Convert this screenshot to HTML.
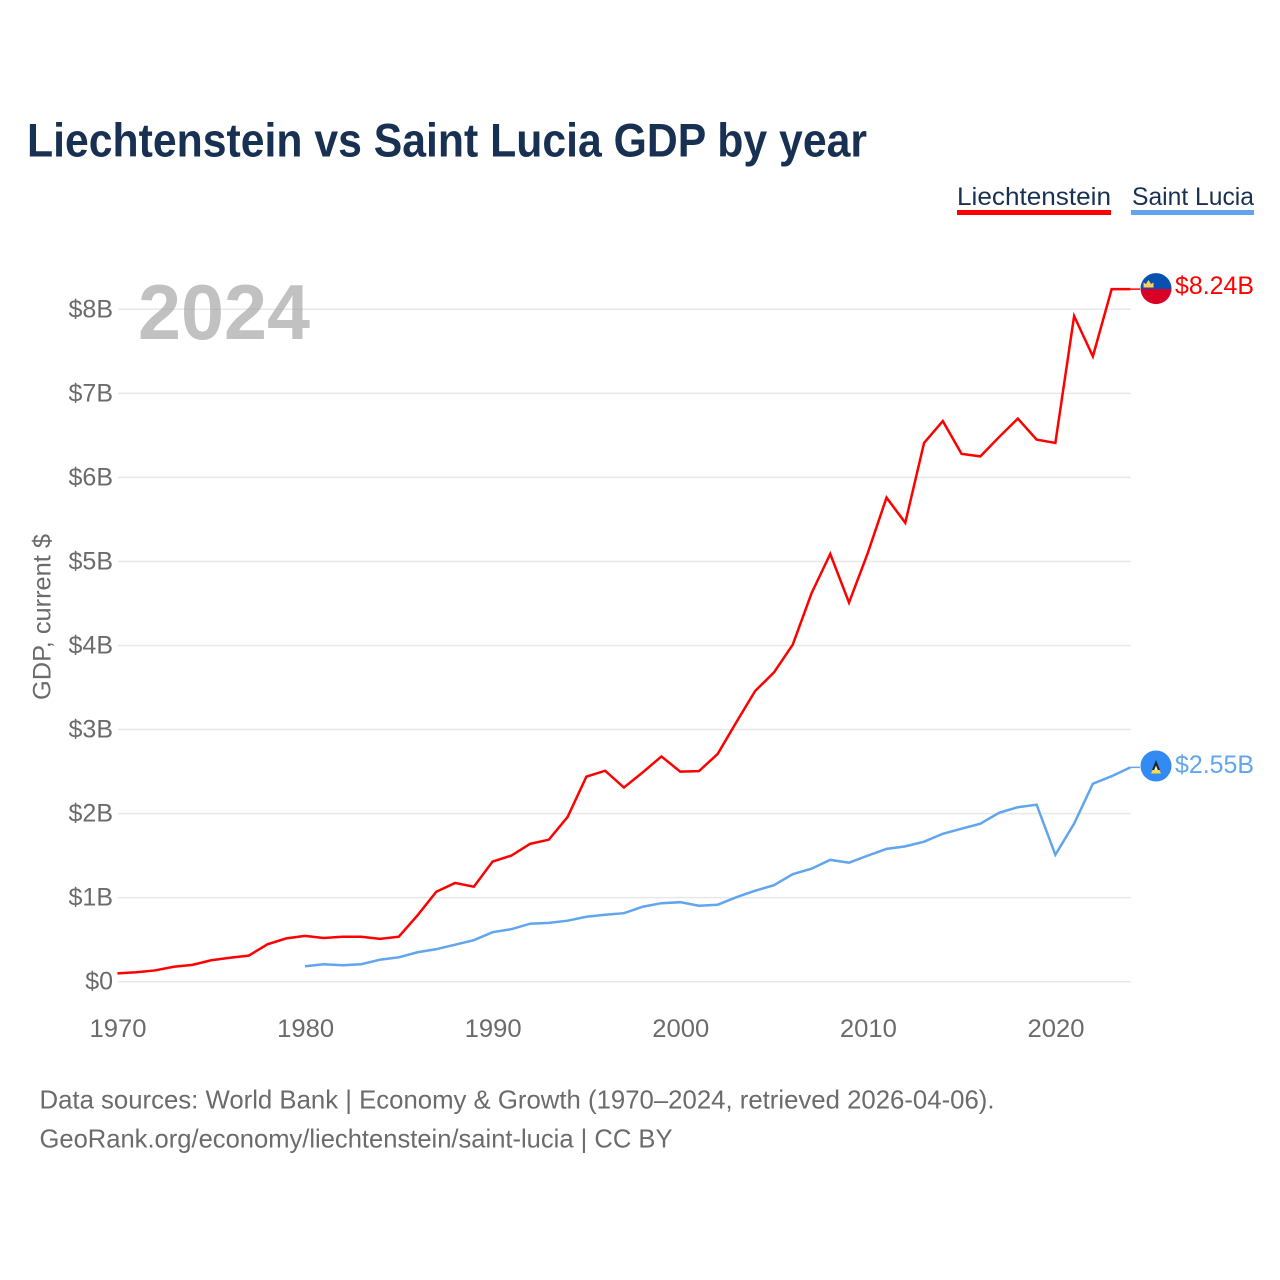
<!DOCTYPE html>
<html lang="en">
<head>
<meta charset="utf-8">
<title>Liechtenstein vs Saint Lucia GDP by year</title>
<style>
html,body{margin:0;padding:0;background:#fff;}
svg{display:block;font-family:"Liberation Sans",Arial,sans-serif;}
</style>
</head>
<body>
<svg id="chart" xmlns="http://www.w3.org/2000/svg" width="1280" height="1280" viewBox="0 0 1280 1280">
  <rect width="1280" height="1280" fill="#ffffff"/>
  <text x="27" y="156.500" font-size="47" font-weight="700" fill="#183153" textLength="840" lengthAdjust="spacingAndGlyphs">Liechtenstein vs Saint Lucia GDP by year</text>

  <g>
    <text x="957" y="205" font-size="25" fill="#183153" textLength="154" lengthAdjust="spacingAndGlyphs">Liechtenstein</text>
    <rect x="957" y="210" width="154" height="5" fill="#ff0000"/>
  </g>
  <g>
    <text x="1132" y="205" font-size="25" fill="#183153" textLength="122" lengthAdjust="spacingAndGlyphs">Saint Lucia</text>
    <rect x="1131" y="210" width="123" height="5" fill="#60a5ed"/>
  </g>

  <g id="grid"></g>
  <text x="138" y="339" font-size="78" font-weight="700" fill="#a6a6a6" fill-opacity="0.7" textLength="172" lengthAdjust="spacingAndGlyphs">2024</text>
  <g id="yticks"></g>
  <g id="xticks"></g>
  <text transform="translate(50.500,700) rotate(-90)" font-size="25" fill="#6b6b6b" textLength="166" lengthAdjust="spacingAndGlyphs">GDP, current $</text>
  <g id="series"></g>

  <g id="flag-li">
    <clipPath id="clip-li"><circle cx="1156" cy="288.600" r="15.500"/></clipPath>
    <g clip-path="url(#clip-li)">
      <rect x="1140" y="273" width="32" height="16" fill="#0a50b0"/>
      <rect x="1140" y="289" width="32" height="16" fill="#d80027"/>
    </g>
    <path d="M1143.500 287.500v-5l2.500 1.500 2.500-4 2.500 4 2.500-1.500v5z" fill="#ffd15c"/>
  </g>
  <g id="flag-lc">
    <circle cx="1156" cy="766" r="15.500" fill="#338af3"/>
    <path d="M1151 773.500l5-11 5 11z" fill="#ffda44"/>
    <path d="M1152 770l4-10 4 10z" fill="#222222"/>
    <path d="M1154.200 770l1.800-4.500 1.800 4.500z" fill="#f0f0f0"/>
  </g>

  <text x="1175" y="294" font-size="25" fill="#ff0000" textLength="79" lengthAdjust="spacingAndGlyphs">$8.24B</text>
  <text x="1175" y="773" font-size="25" fill="#60a5ed" textLength="79" lengthAdjust="spacingAndGlyphs">$2.55B</text>

  <text x="39.500" y="1108.500" font-size="26" fill="#6b6b6b" textLength="955" lengthAdjust="spacingAndGlyphs">Data sources: World Bank | Economy &amp; Growth (1970–2024, retrieved 2026-04-06).</text>
  <text x="39.500" y="1147.500" font-size="26" fill="#6b6b6b" textLength="633" lengthAdjust="spacingAndGlyphs">GeoRank.org/economy/liechtenstein/saint-lucia | CC BY</text>
</svg>
<script>
const yTickValues = [0, 1, 2, 3, 4, 5, 6, 7, 8];
const yTickLabels = ["$0", "$1B", "$2B", "$3B", "$4B", "$5B", "$6B", "$7B", "$8B"];
const xTickYears = [1970, 1980, 1990, 2000, 2010, 2020];
const liechtensteinStartYear = 1970;
const liechtensteinGdp = [0.099,0.113,0.134,0.178,0.2,0.255,0.285,0.31,0.445,0.515,0.545,0.52,0.535,0.535,0.51,0.535,0.79,1.07,1.175,1.13,1.43,1.5,1.64,1.69,1.96,2.44,2.51,2.31,2.49,2.68,2.5,2.505,2.71,3.09,3.46,3.68,4.01,4.62,5.09,4.51,5.1,5.76,5.46,6.41,6.67,6.28,6.25,6.48,6.7,6.45,6.41,7.92,7.44,8.24,8.24];
const saintLuciaStartYear = 1980;
const saintLuciaGdp = [0.184,0.208,0.196,0.208,0.262,0.29,0.35,0.387,0.44,0.494,0.589,0.625,0.69,0.7,0.726,0.773,0.797,0.815,0.892,0.934,0.946,0.904,0.916,1.005,1.083,1.148,1.279,1.344,1.45,1.416,1.5,1.58,1.61,1.666,1.76,1.82,1.88,2.01,2.076,2.106,1.51,1.88,2.356,2.445,2.55];

const NS = "http://www.w3.org/2000/svg";
const xScale = function (year) { return 117.4 + (year - 1970) * (1130.4 - 117.4) / 54; };
const yScale = function (v) { return 981.7 - v * 84.05; };

function make(tag, attrs, parent, text) {
  const el = document.createElementNS(NS, tag);
  for (const k in attrs) el.setAttribute(k, attrs[k]);
  if (text !== undefined) el.textContent = text;
  parent.appendChild(el);
  return el;
}

const grid = document.getElementById("grid");
const yticks = document.getElementById("yticks");
const xticks = document.getElementById("xticks");
const seriesGroup = document.getElementById("series");

yTickValues.forEach(function (v, i) {
  const line = make("line", {x1: 118, x2: 1131, y1: yScale(v), y2: yScale(v), stroke: "#e8e8e8", "stroke-width": 1.5}, grid);
  
  
  const label = make("text", {x: 113, y: yScale(v) + 8, "text-anchor": "end", "font-size": 25, fill: "#6b6b6b"}, yticks, yTickLabels[i]);
  
  
});

xTickYears.forEach(function (year) {
  const label = make("text", {x: xScale(year) + 0.6, y: 1037, "text-anchor": "middle", "font-size": 25, fill: "#6b6b6b", textLength: 57, lengthAdjust: "spacingAndGlyphs"}, xticks, String(year));
  
  
});

function linePoints(startYear, values) {
  return values.map(function (v, i) { return xScale(startYear + i).toFixed(2) + "," + yScale(v).toFixed(2); }).join(" ");
}

const liLine = make("polyline", {points: linePoints(liechtensteinStartYear, liechtensteinGdp), fill: "none", stroke: "#ff0000", "stroke-width": 2.5, "stroke-linejoin": "miter"}, seriesGroup);


const lcLine = make("polyline", {points: linePoints(saintLuciaStartYear, saintLuciaGdp), fill: "none", stroke: "#60a5ed", "stroke-width": 2.5, "stroke-linejoin": "miter"}, seriesGroup);



const liEnd = liechtensteinGdp[liechtensteinGdp.length - 1];
const lcEnd = saintLuciaGdp[saintLuciaGdp.length - 1];
const liConn = make("line", {x1: xScale(2024), x2: 1140, y1: yScale(liEnd), y2: yScale(liEnd), stroke: "#ff0000", "stroke-width": 1.5}, seriesGroup);


const lcConn = make("line", {x1: xScale(2024), x2: 1140, y1: yScale(lcEnd), y2: yScale(lcEnd), stroke: "#60a5ed", "stroke-width": 1.5}, seriesGroup);


</script>
</body>
</html>
